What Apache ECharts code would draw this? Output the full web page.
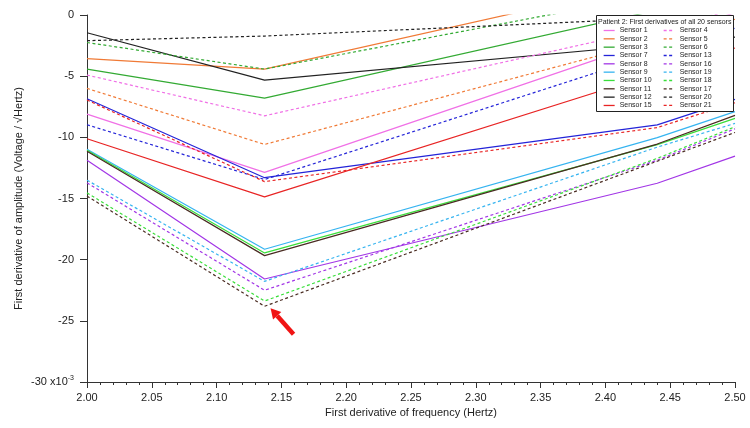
<!DOCTYPE html>
<html>
<head>
<meta charset="utf-8">
<script src="https://cdn.jsdelivr.net/npm/echarts@6/dist/echarts.min.js"></script>
<style>
  html, body { margin: 0; padding: 0; background: #fff; }
  #chart { width: 750px; height: 428px; }
</style>
</head>
<body>
<div id="chart"></div>
<script>
// frequency points where the sensor traces are sampled
const xs = [2.0, 2.137, 2.44, 2.5];

// first derivative of amplitude, x10^-3
const s1 = [-8.1, -12.87, -1.95, 0.2];
const s2 = [-3.57, -4.42, 2.77, 4.19];
const s3 = [-4.42, -6.79, 0.4, 1.8];
const s4 = [-4.91, -8.24, -1.04, 0.4];
const s5 = [-6.0, -10.58, -2.05, -0.35];
const s6 = [-2.25, -4.42, 1.7, 2.88];
const s7 = [-6.85, -13.3, -8.98, -6.9];
const s8 = [-11.87, -21.58, -13.75, -11.54];
const s9 = [-10.97, -19.15, -10.02, -7.9];
const s10 = [-11.05, -19.45, -10.6, -8.45];
const s11 = [-11.13, -19.67, -10.55, -8.2];
const s12 = [-1.45, -5.32, -2.39, -1.81];
const s13 = [-8.97, -13.45, -3.1, -1.08];
const s15 = [-10.12, -14.87, -4.74, -2.7];
const s16 = [-13.72, -22.5, -11.87, -9.3];
const s17 = [-14.8, -23.81, -11.95, -9.6];
const s18 = [-14.54, -23.38, -11.72, -9.14];
const s19 = [-13.5, -21.77, -10.8, -8.86];
const s20 = [-2.1, -1.72, -0.27, -0.1];
const s21 = [-6.95, -13.62, -9.2, -7.17];

const solidNames = ['Sensor 1', 'Sensor 2', 'Sensor 3', 'Sensor 7', 'Sensor 8',
  'Sensor 9', 'Sensor 10', 'Sensor 11', 'Sensor 12', 'Sensor 15'];
const dashedNames = ['Sensor 4', 'Sensor 5', 'Sensor 6', 'Sensor 13', 'Sensor 16',
  'Sensor 19', 'Sensor 18', 'Sensor 17', 'Sensor 20', 'Sensor 21'];

const yTicks = [0, -5, -10, -15, -20, -25, -30];

const FONT = 'Liberation Sans, Arial, sans-serif';

// name, values, colour, dashed
const sensors = [
  ['Sensor 1', s1, '#f070e6', false],
  ['Sensor 2', s2, '#f07a36', false],
  ['Sensor 3', s3, '#33aa33', false],
  ['Sensor 7', s7, '#2424d8', false],
  ['Sensor 8', s8, '#a236e6', false],
  ['Sensor 9', s9, '#36b4f0', false],
  ['Sensor 10', s10, '#3ade3a', false],
  ['Sensor 11', s11, '#4a2c22', false],
  ['Sensor 12', s12, '#222222', false],
  ['Sensor 15', s15, '#e82424', false],
  ['Sensor 4', s4, '#f070e6', true],
  ['Sensor 5', s5, '#f07a36', true],
  ['Sensor 6', s6, '#33aa33', true],
  ['Sensor 13', s13, '#2424d8', true],
  ['Sensor 16', s16, '#a236e6', true],
  ['Sensor 19', s19, '#36b4f0', true],
  ['Sensor 18', s18, '#3ade3a', true],
  ['Sensor 17', s17, '#4a2c22', true],
  ['Sensor 20', s20, '#222222', true],
  ['Sensor 21', s21, '#e82424', true]
];

const series = sensors.map(function (s) {
  return {
    name: s[0],
    type: 'line',
    symbol: 'none',
    clip: true,
    z: 2,
    data: xs.map(function (x, i) { return [x, s[1][i]]; }),
    lineStyle: { color: s[2], width: 1.2, type: s[3] ? [3, 2.5] : 'solid' },
    itemStyle: { color: s[2] }
  };
});

function legendCol(left, names) {
  return {
    data: names,
    orient: 'vertical',
    left: left,
    top: 27,
    padding: 0,
    itemWidth: 11,
    itemHeight: 7,
    itemGap: 1.33,
    z: 5,
    selectedMode: false,
    itemStyle: { opacity: 0 },
    lineStyle: { width: 1.3 },
    textStyle: { fontSize: 7, fontFamily: FONT, color: '#222' }
  };
}

const chart = echarts.init(document.getElementById('chart'));

chart.setOption({
  animation: false,
  backgroundColor: '#fff',
  title: {
    text: 'Patient 2: First derivatives of all 20 sensors',
    left: 596,
    top: 15,
    padding: [4, 2, 86, 2],
    backgroundColor: '#fff',
    borderColor: '#222',
    borderWidth: 1,
    z: 3,
    textStyle: { fontSize: 7, fontWeight: 'normal', fontFamily: FONT, color: '#222' }
  },
  legend: [legendCol(603, solidNames), legendCol(663, dashedNames)],
  grid: { left: 87, right: 15, top: 15, bottom: 46 },
  xAxis: {
    type: 'value',
    min: 2.0,
    max: 2.5,
    interval: 0.05,
    name: 'First derivative of frequency (Hertz)',
    nameLocation: 'middle',
    nameGap: 25,
    nameMoveOverlap: false,
    nameTextStyle: { fontSize: 11, fontFamily: FONT, color: '#222' },
    splitLine: { show: false },
    axisLine: { onZero: false, lineStyle: { color: '#333', width: 1 } },
    axisTick: { length: 6, lineStyle: { color: '#333' } },
    minorTick: { show: true, splitNumber: 5, length: 3, lineStyle: { color: '#333' } },
    axisLabel: {
      margin: 10,
      fontSize: 11,
      fontFamily: FONT,
      color: '#222',
      formatter: function (v) { return v.toFixed(2); }
    }
  },
  yAxis: {
    type: 'value',
    min: -30,
    max: 0,
    interval: 5,
    name: 'First derivative of amplitude (Voltage / \u221AHertz)',
    nameLocation: 'middle',
    nameGap: 63,
    nameMoveOverlap: false,
    nameTextStyle: { fontSize: 11, fontFamily: FONT, color: '#222' },
    splitLine: { show: false },
    axisLine: { show: true, onZero: false, lineStyle: { color: '#333', width: 1 } },
    axisTick: { show: true, length: 7, lineStyle: { color: '#333' } },
    axisLabel: {
      margin: 13,
      fontSize: 11,
      fontFamily: FONT,
      color: '#222',
      formatter: function (v) {
        return v === yTicks[yTicks.length - 1] ? '{a|' + v + ' x10}{b|-3}' : String(v);
      },
      rich: {
        a: { fontSize: 11, fontFamily: FONT, color: '#222' },
        b: { fontSize: 7, fontFamily: FONT, color: '#222', padding: [0, 0, 8, 0] }
      }
    }
  },
  series: series
});

// red arrow pointing at the lowest trough (Sensor 17)
const p = chart.convertToPixel({ gridIndex: 0 }, [xs[1], s17[1]]);
const tip = [p[0] + 6, p[1] + 2];
const tail = [p[0] + 29, p[1] + 28];
const dx = tip[0] - tail[0], dy = tip[1] - tail[1];
const len = Math.sqrt(dx * dx + dy * dy);
const ux = dx / len, uy = dy / len;
const headLen = 10, headHalf = 5.5;
const base = [tip[0] - ux * headLen, tip[1] - uy * headLen];
chart.setOption({
  graphic: [
    {
      type: 'line',
      z: 10,
      shape: { x1: tail[0], y1: tail[1], x2: base[0], y2: base[1] },
      style: { stroke: '#f01414', lineWidth: 4.5 }
    },
    {
      type: 'polygon',
      z: 10,
      shape: {
        points: [
          tip,
          [base[0] - uy * headHalf, base[1] + ux * headHalf],
          [base[0] + uy * headHalf, base[1] - ux * headHalf]
        ]
      },
      style: { fill: '#f01414' }
    }
  ]
});
</script>
</body>
</html>
